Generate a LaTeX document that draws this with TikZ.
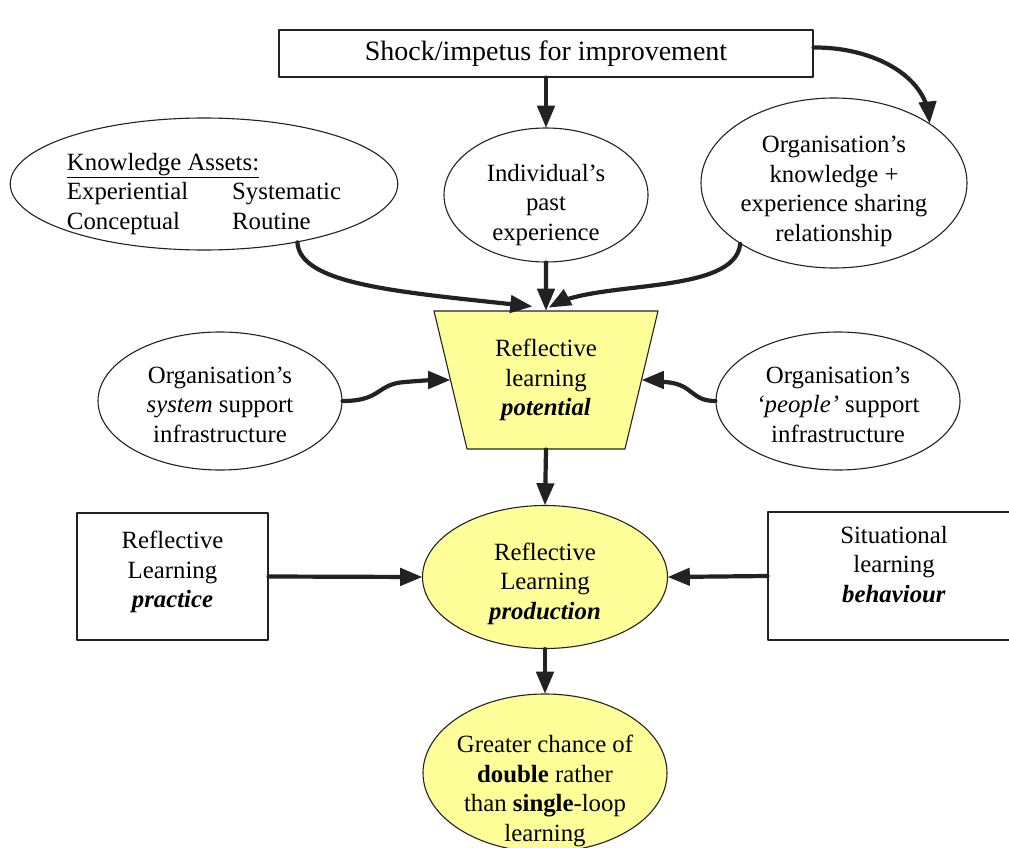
\documentclass[tikz,border=0pt]{standalone}
\usepackage{fontspec}
\setmainfont{Liberation Serif}
\usetikzlibrary{arrows, calc, shapes.geometric}

\definecolor{paleyellow}{HTML}{FFFF99}
\definecolor{inkgray}{HTML}{222222}

\newcommand{\lowertext}[2]{\raisebox{-#1pt}[\height][\depth]{\begin{tabular}{@{}c@{}}#2\end{tabular}}}

\begin{document}
\begin{tikzpicture}[line cap=round,line join=round,>=triangle 45,x=1pt,y=-1pt,
  every node/.style={font=\fontsize{24.8}{29.5}\selectfont, align=center, inner sep=0pt},
  bubble/.style={ellipse, draw=inkgray, line width=1.1pt},
  box/.style={rectangle, draw=inkgray, line width=1.1pt},
  flow/.style={->, draw=inkgray, line width=4.2pt}]
\useasboundingbox (0,0) rectangle (1009,848);
\clip (0,0) rectangle (1009,848);

\node[box, minimum width=534, minimum height=47, font=\fontsize{28}{33}\selectfont] (shock) at (546,53.5) {Shock/impetus for improvement};

\node[bubble, minimum width=384, minimum height=132] (assets) at (204,184)
  {\raisebox{-10pt}[\height][\depth]{\begin{tabular}{@{}l@{\hspace{44pt}}l@{}}\multicolumn{2}{@{}l}{\underline{Knowledge Assets:}}\\ Experiential & Systematic\\ Conceptual & Routine\end{tabular}}};
\node[bubble, minimum width=204, minimum height=134] (indiv) at (546,195) {\lowertext{10}{Individual’s\\past\\experience}};
\node[bubble, minimum width=266, minimum height=170] (orgk) at (834,183) {\lowertext{8}{Organisation’s\\knowledge +\\experience sharing\\relationship}};

\node[trapezium, trapezium angle=68, shape border rotate=180, trapezium stretches body,
  minimum width=224, minimum height=138, draw=inkgray, line width=1.1pt, fill=paleyellow]
  (pot) at (546,380) {Reflective\\learning\\\textbf{\textit{potential}}};

\node[bubble, minimum width=244, minimum height=138] (syssup) at (220,401) {\lowertext{6}{Organisation’s\\\textit{system} support\\infrastructure}};
\node[bubble, minimum width=244, minimum height=138] (pplsup) at (838,401) {\lowertext{6}{Organisation’s\\\textit{‘people’} support\\infrastructure}};

\node[bubble, fill=paleyellow, minimum width=245, minimum height=143] (prod) at (545,577) {\lowertext{7}{Reflective\\Learning\\\textbf{\textit{production}}}};
\node[box, minimum width=191, minimum height=127] (practice) at (172.5,576.5) {\lowertext{-4}{Reflective\\Learning\\\textbf{\textit{practice}}}};
\node[box, minimum width=252, minimum height=128] (behav) at (894,576) {\lowertext{-9}{Situational\\learning\\\textbf{\textit{behaviour}}}};

\node[bubble, fill=paleyellow, minimum width=244, minimum height=158] (chance) at (545,773) {};
\node (chancetext) at (545,791) {Greater chance of\\\textbf{double} rather\\than \textbf{single}-loop\\learning};

\draw[flow] (shock.south) -- (indiv.north);
\draw[flow] ($(shock.east)+(0,-6)$) .. controls (872,47) and (925,75) .. (orgk.32);
\draw[flow] (indiv.south) -- (pot.north);
\draw[flow] (assets.-32) .. controls (300,285) and (400,292) .. ($(pot.north)+(-14,-4)$);
\draw[flow] (orgk.-147) .. controls (735,295) and (600,280) .. ($(pot.north)+(3,-3)$);
\draw[flow] (syssup.east) .. controls (382,401) and (376,384) .. (405,382) .. controls (430,380) .. (pot.west);
\draw[flow] (pplsup.west) .. controls (690,401) and (694,384) .. (665,382) .. controls (650,380) .. (pot.east);
\draw[flow] (pot.south) -- (prod.north);
\draw[flow] (practice.east) -- (prod.west);
\draw[flow] (behav.west) -- (prod.east);
\draw[flow] (prod.south) -- (chance.north);

\end{tikzpicture}
\end{document}
